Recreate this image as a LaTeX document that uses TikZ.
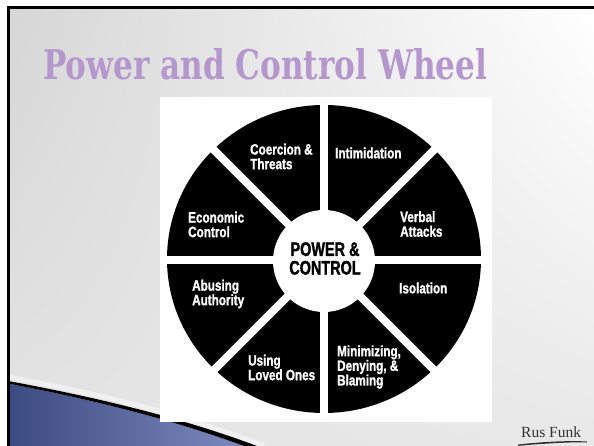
\documentclass[tikz,border=0pt]{standalone}
\usepackage{fontspec}
\usetikzlibrary{shadings}
\setmainfont{Liberation Sans}
\newfontfamily\labelfont[FakeStretch=0.78, BoldFeatures={FakeBold=1.2}]{Liberation Sans}
\newfontfamily\centerfont[FakeStretch=0.74, BoldFeatures={FakeBold=1.5}]{Liberation Sans}
\newfontfamily\titlefont{DejaVu Serif}
\newfontfamily\sigfont{Liberation Serif}
\definecolor{titlepurple}{RGB}{181,150,205}
\definecolor{swooshdark}{RGB}{60,74,130}
\definecolor{swooshlight}{RGB}{124,138,190}
\definecolor{bgTL}{RGB}{214,214,214}
\definecolor{bgBL}{RGB}{228,228,228}
\definecolor{bgBR}{RGB}{232,232,232}
\definecolor{sigcolor}{RGB}{50,50,50}
\tikzset{
  seglabel/.style={text=white, font=\labelfont\bfseries\fontsize{15}{14.6}\selectfont, align=left, inner sep=0pt, anchor=west},
  hublabel/.style={text=black, font=\centerfont\bfseries\fontsize{19.5}{18.6}\selectfont, align=center, inner sep=0pt},
  gapline/.style={white, line width=8pt},
  framestroke/.style={black, line width=3pt, line join=miter},
}
\begin{document}
\begin{tikzpicture}[x=1pt,y=-1pt]
\useasboundingbox (0,0) rectangle (594,446);
\fill[white] (0,0) rectangle (594,446);
% background gradient
\shade[upper left=bgTL, upper right=white, lower left=bgBL, lower right=bgBR] (8,8) rectangle (594,446);
% light band above swoosh
\draw[white, opacity=0.45, line width=5pt] (8,377) .. controls (100,394) and (185,415) .. (264,446);
% blue swoosh
\shade[left color=swooshdark, right color=swooshlight] (8,383.5) .. controls (100,401) and (176,421) .. (244,446) -- (8,446) -- cycle;
\fill[black] (8,381) .. controls (100,398) and (182,418) .. (257,446) -- (244,446) .. controls (176,421) and (100,401) .. (8,383.5) -- cycle;
% frame
\draw[framestroke] (8,446) -- (8,8) -- (594,8);
% white picture box
\fill[white] (160,97) rectangle (492,422);
% wheel
\fill[black] (324,259) ellipse [x radius=157pt, y radius=154pt];
\foreach \a in {0,45,...,315} \draw[gapline] (324,260) -- ++(\a:162pt);
\node[circle, fill=white, minimum size=102pt, inner sep=0pt] (hub) at (324,261) {};
% labels
\node[seglabel] (coercion) at (250,156.5) {Coercion \&\\Threats};
\node[seglabel] (intim) at (335,153) {Intimidation};
\node[seglabel] (econ) at (188,224.5) {Economic\\Control};
\node[seglabel] (verbal) at (400,224) {Verbal\\Attacks};
\node[seglabel] (abuse) at (192,294) {Abusing\\Authority};
\node[seglabel] (isol) at (399,288) {Isolation};
\node[seglabel] (loved) at (248,367.5) {Using\\Loved Ones};
\node[seglabel] (minim) at (337,367) {Minimizing,\\Denying, \&\\Blaming};
\node[hublabel] (power) at (325,258.5) {POWER \&\\CONTROL};
% title
\node[anchor=south west, inner sep=0pt, text=titlepurple] (title) at (43,80) {\resizebox{444pt}{31pt}{\titlefont\bfseries Power and Control Wheel}};
% signature
\node[anchor=base west, inner sep=0pt, text=sigcolor, font=\sigfont\fontsize{15.5}{15.5}\selectfont] (sig) at (521,437) {Rus Funk};
\fill[sigcolor] (518,444.5) .. controls (545,441.5) and (570,440.5) .. (587,441.5) -- (587,442.3) .. controls (570,442) and (545,443.5) .. (518,445.8) -- cycle;
\end{tikzpicture}
\end{document}
